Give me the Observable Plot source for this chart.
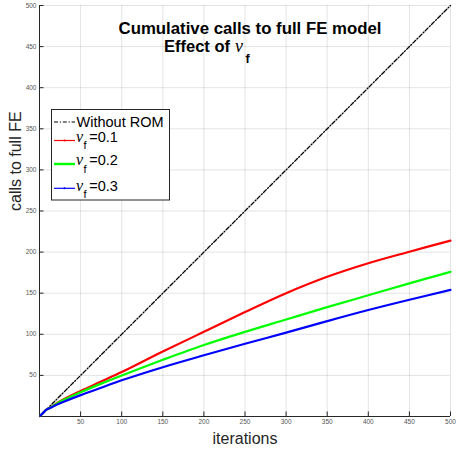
<!DOCTYPE html>
<html><head><meta charset="utf-8">
<script src="https://cdn.jsdelivr.net/npm/d3@7"></script>
<script src="https://cdn.jsdelivr.net/npm/@observablehq/plot@0.6"></script>
<style>body{margin:0;background:#fff}#chart svg{display:block}</style>
</head><body><div id="chart"></div>
<script>
// ---- data ----
const iterations = [1, 5, 8, 12, 25, 50, 75, 100, 150, 200, 250, 300, 350, 400, 450, 500];
const nu01 = [1, 5, 8, 10, 18.5, 31, 42.5, 54, 79, 103, 127, 150, 170, 186.5, 200.5, 214];
const nu02 = [1, 5, 8, 10, 18, 29.5, 40, 50, 69, 87, 103, 118, 133, 147.5, 162, 176];
const nu03 = [1, 5, 8, 10, 16, 26, 35, 44, 60, 74.5, 88.5, 102, 116, 129.5, 142, 154];
const withoutRomX = [0, 500];
const withoutRomY = [0, 500];
const seriesNames = ["0.1", "0.2", "0.3"];
const seriesColors = ["#ff0000", "#00ff00", "#0000ff"];
const xTicks = [50, 100, 150, 200, 250, 300, 350, 400, 450, 500];
const yTicks = [50, 100, 150, 200, 250, 300, 350, 400, 450, 500];
const titleLine1 = "Cumulative calls to full FE model";
const titleLine2 = "Effect of";
const xLabel = "iterations";
const yLabel = "calls to full FE";
const legendFirst = "Without ROM";

const rows = [];
[nu01, nu02, nu03].forEach((vals, k) =>
  vals.forEach((v, i) => rows.push({it: iterations[i], calls: v, s: seriesNames[k]})));
const diag = withoutRomX.map((x, i) => ({it: x, calls: withoutRomY[i]}));

const font = "'Liberation Sans', Arial, Helvetica, sans-serif";
const axisCol = "#262626";
const tickCol = "#555";
const dash = "4,1.8,1.2,1.8";

const chart = Plot.plot({
  width: 459, height: 449,
  marginLeft: 39, marginRight: 9, marginTop: 5, marginBottom: 33,
  style: {fontFamily: font, background: "#fff", overflow: "visible"},
  x: {domain: [0, 500]},
  y: {domain: [0, 500]},
  color: {domain: seriesNames, range: seriesColors},
  marks: [
    Plot.gridX(xTicks, {stroke: "#000", strokeOpacity: 0.11}),
    Plot.gridY(yTicks, {stroke: "#000", strokeOpacity: 0.11}),
    Plot.axisX(xTicks, {tickSize: 0, tickPadding: 3, fontSize: 6.5, color: tickCol, label: null}),
    Plot.axisY(yTicks, {tickSize: 0, tickPadding: 3, fontSize: 6.5, color: tickCol, label: null}),
    Plot.ruleX(xTicks, {x: d => d, y1: 0, y2: 5.5, stroke: axisCol}),
    Plot.ruleY(yTicks, {y: d => d, x1: 0, x2: 5.5, stroke: axisCol}),
    Plot.ruleY([0], {stroke: axisCol}),
    Plot.ruleX([0], {stroke: axisCol}),
    Plot.line(diag, {x: "it", y: "calls", stroke: "#000", strokeWidth: 1.3, strokeDasharray: dash}),
    Plot.line(rows, {x: "it", y: "calls", z: "s", stroke: "s", strokeWidth: 2.2, curve: "catmull-rom"}),
    Plot.text([xLabel], {frameAnchor: "bottom", dy: 22, lineAnchor: "middle", fontSize: 16, fill: axisCol, text: d => d}),
    Plot.text([yLabel], {frameAnchor: "left", dx: -24, rotate: -90, lineAnchor: "middle", fontSize: 16, fill: axisCol, text: d => d})
  ]
});
document.getElementById("chart").appendChild(chart);

// ---- title and legend (pixel layout) ----
const svg = d3.select(chart);
const serif = "'Liberation Serif', 'Times New Roman', serif";
const t = svg.append("g").attr("font-family", font).attr("fill", "#000").attr("text-anchor", "start");
t.append("text").attr("x", 250).attr("y", 33.5).attr("text-anchor", "middle")
  .attr("font-size", 16.8).attr("font-weight", "bold").text(titleLine1);
t.append("text").attr("x", 164).attr("y", 52)
  .attr("font-size", 16.5).attr("font-weight", "bold").text(titleLine2);
t.append("text").attr("x", 235).attr("y", 52).attr("font-family", serif)
  .attr("font-style", "italic").attr("font-size", 18).text("ν");
t.append("text").attr("x", 245.5).attr("y", 62.5)
  .attr("font-size", 12.5).attr("font-weight", "bold").text("f");

const lg = svg.append("g").attr("font-family", font).attr("fill", "#000").attr("text-anchor", "start");
lg.append("rect").attr("x", 51.5).attr("y", 109.5).attr("width", 118).attr("height", 90.5)
  .attr("fill", "#fff").attr("stroke", "#262626").attr("stroke-width", 1);
lg.append("line").attr("x1", 54).attr("x2", 75).attr("y1", 122).attr("y2", 122)
  .attr("stroke", "#000").attr("stroke-dasharray", dash);
lg.append("text").attr("x", 76.5).attr("y", 126.5).attr("font-size", 14.5).text(legendFirst);
const entries = [
  {ly: 140.5, base: 141.7, w: 1.2},
  {ly: 164, base: 165.2, w: 2.4},
  {ly: 188.3, base: 190.7, w: 1.2}
];
entries.forEach((e, k) => {
  lg.append("line").attr("x1", 54).attr("x2", 75).attr("y1", e.ly).attr("y2", e.ly)
    .attr("stroke", seriesColors[k]).attr("stroke-width", e.w);
  lg.append("circle").attr("cx", 64.5).attr("cy", e.ly).attr("r", 1).attr("fill", seriesColors[k]);
  lg.append("text").attr("x", 76).attr("y", e.base).attr("font-family", serif)
    .attr("font-style", "italic").attr("font-size", 16).text("ν");
  lg.append("text").attr("x", 83.5).attr("y", e.base + 7.5).attr("font-size", 11).text("f");
  lg.append("text").attr("x", 89.3).attr("y", e.base).attr("font-size", 14.5).text("=" + seriesNames[k]);
});
</script>
</body></html>
